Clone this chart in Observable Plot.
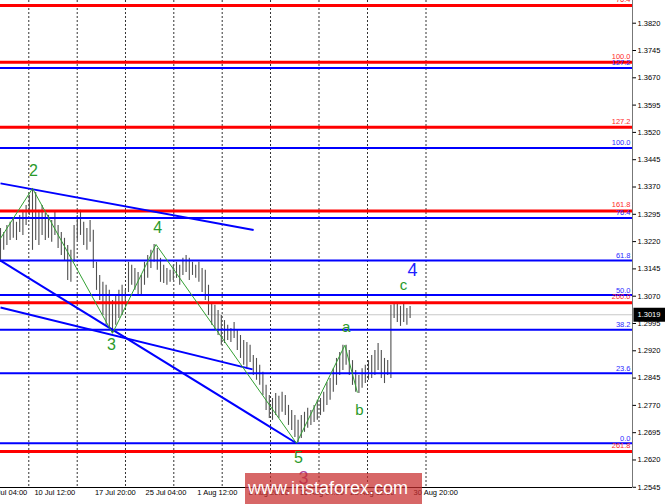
<!DOCTYPE html>
<html><head><meta charset="utf-8">
<script src="https://cdn.jsdelivr.net/npm/d3@7"></script>
<script src="https://cdn.jsdelivr.net/npm/@observablehq/plot@0.6"></script>
<style>
html,body{margin:0;padding:0;background:#fff;}
#wrap{position:relative;width:665px;height:504px;overflow:hidden;}
#wrap svg{display:block;}
#wm{position:absolute;left:245px;top:473px;width:177px;height:31px;background:rgba(200,45,45,0.72);color:#fff;font:18px "Liberation Sans",Arial,sans-serif;line-height:31px;padding-left:3px;box-sizing:border-box;white-space:nowrap;}
</style></head><body><div id="wrap"></div>
<script>
// ---- data ----
const highs = [1.3256,1.3245,1.3264,1.3273,1.3284,1.3273,1.3292,1.3306,1.3319,1.3347,
1.3366,1.3355,1.3306,1.3319,1.3297,1.3292,1.3278,1.3300,1.3264,1.3245,
1.3229,1.3209,1.3196,1.3264,1.3292,1.3306,1.3273,1.3256,1.3278,1.3251,
1.3163,1.3127,1.3108,1.3100,1.3086,1.3058,1.3072,1.3086,1.3100,1.3086,
1.3163,1.3155,1.3146,1.3135,1.3127,1.3163,1.3182,1.3196,1.3212,1.3201,
1.3174,1.3155,1.3146,1.3141,1.3155,1.3163,1.3155,1.3174,1.3182,1.3174,
1.3163,1.3155,1.3163,1.3146,1.3141,1.3100,1.3050,1.3045,1.3031,1.3017,
1.3003,1.2990,1.2981,1.2998,1.2976,1.2962,1.2948,1.2943,1.2935,1.2907,
1.2899,1.2880,1.2861,1.2825,1.2797,1.2789,1.2803,1.2795,1.2806,1.2797,
1.2770,1.2756,1.2742,1.2729,1.2742,1.2751,1.2762,1.2756,1.2770,1.2784,
1.2789,1.2806,1.2833,1.2844,1.2871,1.2899,1.2915,1.2935,1.2935,1.2921,
1.2893,1.2866,1.2852,1.2871,1.2880,1.2893,1.2907,1.2921,1.2940,1.2921,
1.2899,1.2893,1.3045,1.3053,1.3053,1.3042,1.3047,1.3036,1.3042];
const lows = [1.3163,1.3196,1.3209,1.3223,1.3229,1.3223,1.3245,1.3237,1.3264,1.3292,
1.3196,1.3223,1.3209,1.3237,1.3223,1.3229,1.3218,1.3237,1.3201,1.3182,
1.3168,1.3113,1.3108,1.3163,1.3223,1.3237,1.3209,1.3196,1.3218,1.3146,
1.3086,1.3058,1.3017,1.2990,1.2981,1.2968,1.2990,1.3009,1.3017,1.3045,
1.3080,1.3100,1.3086,1.3072,1.3072,1.3100,1.3119,1.3146,1.3163,1.3141,
1.3108,1.3105,1.3100,1.3108,1.3113,1.3119,1.3100,1.3127,1.3135,1.3113,
1.3127,1.3119,1.3108,1.3080,1.3058,1.3017,1.2990,1.2976,1.2962,1.2935,
1.2940,1.2948,1.2943,1.2954,1.2921,1.2899,1.2880,1.2874,1.2888,1.2852,
1.2839,1.2825,1.2797,1.2756,1.2734,1.2729,1.2742,1.2734,1.2751,1.2742,
1.2715,1.2701,1.2682,1.2668,1.2679,1.2696,1.2707,1.2715,1.2723,1.2729,
1.2742,1.2751,1.2770,1.2784,1.2806,1.2825,1.2852,1.2866,1.2880,1.2852,
1.2825,1.2806,1.2803,1.2817,1.2830,1.2839,1.2844,1.2852,1.2866,1.2844,
1.2830,1.2852,1.2844,1.3009,1.2998,1.2987,1.2998,1.2990,1.3009];

const levelsBlue = [1.3697, 1.3477, 1.3285, 1.3168, 1.3073, 1.2978, 1.2858, 1.2666];
const levelsBlueLabels = ["127.2","100.0","76.4","61.8","50.0","38.2","23.6","0.0"];
const levelsRed = [1.3869, 1.3713, 1.3534, 1.3304, 1.3052, 1.2643];
const levelsRedLabels = ["76.4","100.0","127.2","161.8","200.0","261.8"];
const currentPrice = 1.3019;

const yTicks = [1.3820,1.3745,1.3670,1.3595,1.3520,1.3445,1.3370,1.3295,1.3220,1.3145,1.3070,1.2995,1.2920,1.2845,1.2770,1.2695,1.2620,1.2545];
const xLabels = ["3 Jul 04:00","10 Jul 12:00","17 Jul 20:00","25 Jul 04:00","1 Aug 12:00","8 Aug 20:00","16 Aug 04:00","23 Aug 12:00","30 Aug 20:00"];
const xLabelPos = [-3.1, 10.6, 29.5, 45.3, 61.5, 77.6, 93.5, 109.3, 129.1];
const gridX = [8.84, 23.97, 39.06, 54.16, 69.28, 84.38, 99.53, 114.69, 132.97];

const zigX = [0, 10, 35, 48.6, 92.5, 107.6, 111.5];
const zigY = [1.3229, 1.3366, 1.2968, 1.3212, 1.2666, 1.2935, 1.2806];

const trendX1 = [0, 0, 0];
const trendY1 = [1.3380, 1.3168, 1.3039];
const trendX2 = [79.1, 92.5, 78.75];
const trendY2 = [1.3252, 1.2666, 1.2869];

const waveText = ["2","3","4","5","a","b","c"];
const waveX = [10.3, 34.7, 49.1, 93.1, 108, 112.2, 125.9];
const waveY = [1.3415, 1.2935, 1.3259, 1.2627, 1.2984, 1.2756, 1.3100];
const waveSize = [16, 16, 16, 16, 15, 15, 15];
const blueWaveText = ["4"];
const blueWaveX = [128.75];
const blueWaveY = [1.3141];
const pinkWaveText = ["3"];
const pinkWaveX = [94.7];
const pinkWaveY = [1.2569];

// ---- build ----
const X_MAX = 197.5;
const Y_MIN = 1.25444, Y_MAX = 1.38824;
const bars = highs.map((h, i) => ({i, h, l: lows[i]}));
const blueLv = levelsBlue.map((v, i) => ({v, t: levelsBlueLabels[i]}));
const redLv = levelsRed.map((v, i) => ({v, t: levelsRedLabels[i]}));
const xl = xLabels.map((t, i) => ({t, x: xLabelPos[i]}));
const zig = zigX.map((x, i) => ({x, y: zigY[i]}));
const trend = trendX1.map((x1, i) => ({x1, y1: trendY1[i], x2: trendX2[i], y2: trendY2[i]}));
const waves = waveText.map((t, i) => ({t, x: waveX[i], y: waveY[i], s: waveSize[i]}));
const blueW = blueWaveText.map((t, i) => ({t, x: blueWaveX[i], y: blueWaveY[i]}));
const pinkW = pinkWaveText.map((t, i) => ({t, x: pinkWaveX[i], y: pinkWaveY[i]}));
const GREEN = "#2a9a2a";

const chart = Plot.plot({
  width: 665, height: 504,
  marginTop: 0, marginRight: 33, marginBottom: 17, marginLeft: 0,
  x: {domain: [0, X_MAX], axis: null},
  y: {domain: [Y_MIN, Y_MAX], axis: null},
  style: {fontFamily: '"Liberation Sans", Arial, sans-serif', fontSize: "7.5px", background: "#fff"},
  marks: [
    Plot.ruleX(gridX, {stroke: "#333", strokeDasharray: "2,2", strokeWidth: 1}),
    Plot.ruleY([currentPrice], {stroke: "#c8c8c8", strokeWidth: 1}),
    Plot.ruleX(bars, {x: "i", y1: "l", y2: "h", stroke: "#505050", strokeWidth: 1.1}),
    Plot.ruleY(levelsBlue, {stroke: "#0000ff", strokeWidth: 2}),
    Plot.ruleY(levelsRed, {stroke: "#ff0000", strokeWidth: 3}),
    Plot.link(trend, {x1: "x1", y1: "y1", x2: "x2", y2: "y2", stroke: "#0000ff", strokeWidth: 2}),
    Plot.line(zig, {x: "x", y: "y", stroke: "#33a033", strokeWidth: 1}),
    Plot.text(blueLv, {y: "v", text: "t", frameAnchor: "right", dx: -2, dy: -5, textAnchor: "end", fill: "#2a2aff"}),
    Plot.text(redLv, {y: "v", text: "t", frameAnchor: "right", dx: -2, dy: -6, textAnchor: "end", fill: "#ff2a2a"}),
    // frame
    Plot.ruleX([X_MAX], {stroke: "#777", strokeWidth: 1}),
    Plot.ruleY([Y_MIN], {stroke: "#000", strokeWidth: 1}),
    // right axis
    Plot.link(yTicks, {x1: () => X_MAX, x2: () => X_MAX + 1.1, y1: d => d, y2: d => d, stroke: "#000"}),
    Plot.text(yTicks, {y: d => d, text: d => d.toFixed(4), frameAnchor: "right", dx: 5, textAnchor: "start", fill: "#000"}),
    Plot.link([currentPrice], {x1: () => X_MAX + 0.3, x2: () => X_MAX + 12, y1: d => d, y2: d => d, stroke: "#000", strokeWidth: 14}),
    Plot.text([currentPrice], {y: d => d, text: d => d.toFixed(4), frameAnchor: "right", dx: 5, textAnchor: "start", fill: "#fff"}),
    // bottom axis
    Plot.text(xl, {x: "x", text: "t", frameAnchor: "bottom", dy: 7, textAnchor: "start", fill: "#000"}),
    // wave labels
    Plot.text(waves, {x: "x", y: "y", text: "t", fill: GREEN, fontSize: "s"}),
    Plot.text(blueW, {x: "x", y: "y", text: "t", fill: "#2020ff", fontSize: 18}),
    Plot.text(pinkW, {x: "x", y: "y", text: "t", fill: "#b0489a", fontSize: 18})
  ]
});
const wrap = document.getElementById("wrap");
wrap.appendChild(chart);
const wm = document.createElement("div");
wm.id = "wm";
wm.textContent = "www.instaforex.com";
wrap.appendChild(wm);
</script></body></html>
